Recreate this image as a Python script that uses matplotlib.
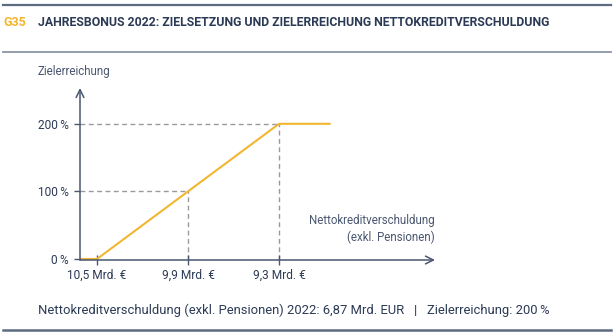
import matplotlib
matplotlib.use("Agg")
import matplotlib.pyplot as plt
from matplotlib.lines import Line2D

# ---- data ----
debt_ticks = [10.5, 9.9, 9.3]
debt_tick_labels = ["10,5 Mrd. €", "9,9 Mrd. €", "9,3 Mrd. €"]
pct_ticks = [0, 100, 200]
pct_tick_labels = ["0\u2009%", "100\u2009%", "200\u2009%"]
curve_x = [10.61, 10.5, 9.9, 9.3, 8.96]
curve_y = [0, 0, 100, 200, 200]
ref_x = [9.9, 9.3]
ref_y = [100, 200]

title_code = "G35"
title_text = "JAHRESBONUS 2022: ZIELSETZUNG UND ZIELERREICHUNG NETTOKREDITVERSCHULDUNG"
y_label = "Zielerreichung"
x_label = "Nettokreditverschuldung\n(exkl. Pensionen)"
footer = "Nettokreditverschuldung (exkl. Pensionen) 2022: 6,87 Mrd. EUR   |   Zielerreichung: 200\u2009%"

NAVY = "#2b3a55"
AXC = "#4a5770"
GOLD = "#f2b630"
DASH = "#9a9a9a"

plt.rcParams['font.family'] = ['Roboto', 'DejaVu Sans']

W, H = 614, 334
fig = plt.figure(figsize=(W / 100, H / 100), dpi=100)

def fx(px):
    return px / W

def fy(py):
    return 1 - py / H

# rules
for yy, col, lw in [(5, "#5d6b80", 1.6), (52, "#8a95a5", 1.3), (330, "#5d6b80", 1.8)]:
    fig.add_artist(Line2D([fx(3), fx(611)], [fy(yy), fy(yy)], color=col, lw=lw,
                          transform=fig.transFigure))

fig.text(fx(3), fy(22), title_code, color=GOLD, fontsize=9, fontweight='bold', va='center')
fig.text(fx(38), fy(22), title_text, color=NAVY, fontsize=8.86, fontweight='bold', va='center')
fig.text(fx(38), fy(71), y_label, color=AXC, fontsize=8.3, va='center')
fig.text(fx(38), fy(310), footer, color=NAVY, fontsize=9.4, va='center')

# axes
left, right, top, bottom = 80, 435, 88, 260
ax = fig.add_axes([fx(left), fy(bottom), (right - left) / W, (bottom - top) / H])
ax.set_xlim(10.612, 8.272)
ax.set_ylim(-1.5, 253)
ax.patch.set_alpha(0)
for s in ax.spines.values():
    s.set_visible(False)

# dashed reference lines
for xv, yv in zip(ref_x, ref_y):
    ax.plot([10.612, xv], [yv, yv], color=DASH, lw=1.0, ls=(0, (3.5, 2.5)), zorder=1)
    ax.plot([xv, xv], [-1.5, yv], color=DASH, lw=1.0, ls=(0, (3.5, 2.5)), zorder=1)

ax.plot(curve_x, curve_y, color=GOLD, lw=1.5, zorder=3, solid_capstyle='butt')

# arrows for axes
ax.annotate("", xy=(0, 1), xytext=(0, 0), xycoords='axes fraction',
            arrowprops=dict(arrowstyle="->", color=AXC, lw=1.1, mutation_scale=14,
                            shrinkA=0, shrinkB=0), zorder=4)
ax.annotate("", xy=(1, 0), xytext=(0, 0), xycoords='axes fraction',
            arrowprops=dict(arrowstyle="->", color=AXC, lw=1.1, mutation_scale=14,
                            shrinkA=0, shrinkB=0), zorder=4)

ax.set_xticks(debt_ticks)
ax.set_xticklabels(debt_tick_labels)
ax.set_yticks(pct_ticks)
ax.set_yticklabels(pct_tick_labels)
ax.tick_params(axis='x', direction='inout', length=7, width=1.0, color=AXC,
               labelcolor=NAVY, labelsize=8.6, pad=3)
ax.tick_params(axis='y', direction='out', length=4, width=1.0, color=AXC,
               labelcolor=NAVY, labelsize=8.6, pad=4)

ax.text(1.0, 0.18, x_label, transform=ax.transAxes, ha='right', va='center',
        color=AXC, fontsize=8.3, linespacing=1.35)

fig.savefig("out.png", dpi=100)
